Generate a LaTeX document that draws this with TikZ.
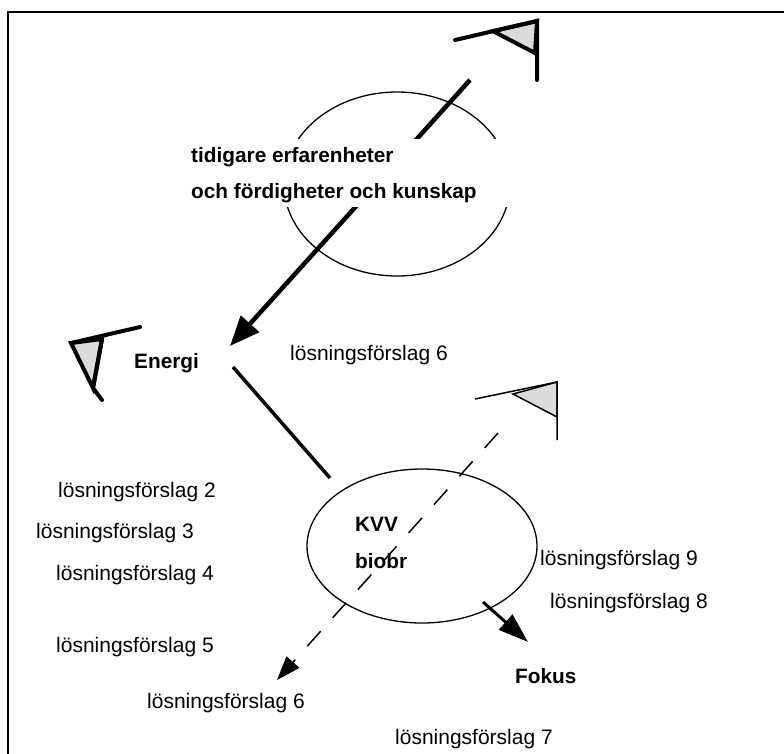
\documentclass[tikz,border=0pt]{standalone}
\usepackage{fontspec}
\setmainfont{Liberation Sans}
\usetikzlibrary{arrows.meta,shapes.geometric}
\begin{document}
\begin{tikzpicture}[x=1pt,y=-1pt,
  lbl/.style={anchor=west,inner sep=0pt,font=\fontsize{21}{25}\selectfont},
  blbl/.style={anchor=west,inner sep=0pt,font=\fontsize{20.8}{25}\selectfont\bfseries},
  oval/.style={draw,ellipse,line width=1.3pt,inner sep=0pt},
  flagfill/.style={fill=black!14},
  heavyflag/.style={line width=4pt,line join=miter,line cap=round},
  lightflag/.style={line width=1.5pt,line join=miter},
  frame/.style={line width=2pt}
]
\useasboundingbox (0,0) rectangle (784,753);
\clip (0,0) rectangle (784,753);

% page frame (left and top edges)
\draw[frame] (7.5,770) -- (7.5,11.5) -- (800,11.5);

% ovals
\node[oval,minimum width=226pt,minimum height=184pt] (exp) at (397,184) {};
\node[oval,minimum width=230pt,minimum height=154pt] (kvv) at (422,546) {};

% flag top right
\coordinate (f1a) at (455,40);
\coordinate (f1b) at (537,21);
\coordinate (f1c) at (493,31.2);
\coordinate (f1d) at (535,53);
\coordinate (f1e) at (537,80);
\filldraw[heavyflag,flagfill] (f1c) -- (f1b) -- (f1d) -- cycle;
\draw[heavyflag] (f1a) -- (f1b) -- (f1e);

% flag left
\coordinate (f2a) at (140,327);
\coordinate (f2b) at (71,343);
\coordinate (f2c) at (102,339);
\coordinate (f2d) at (93,388);
\coordinate (f2e) at (102,400);
\filldraw[heavyflag,flagfill] (f2b) -- (f2c) -- (f2d) -- cycle;
\draw[heavyflag] (f2a) -- (f2b);
\draw[heavyflag] (f2c) -- (f2d) -- (f2e);

% flag right (thin)
\coordinate (f3a) at (475,399);
\coordinate (f3b) at (557,382);
\coordinate (f3c) at (513,394);
\coordinate (f3d) at (557,417);
\coordinate (f3e) at (557,440);
\filldraw[lightflag,flagfill] (f3c) -- (f3b) -- (f3d) -- cycle;
\draw[lightflag] (f3a) -- (f3b) -- (f3e);

% connectors
\coordinate (aTop) at (470,80);
\coordinate (aEnergi) at (230,346);
\draw[line width=4.5pt,-{Triangle[length=30pt,width=24pt]}] (aTop) -- (aEnergi);

\coordinate (lEnergi) at (233,367);
\coordinate (lKvv) at (330,478);
\draw[line width=3.5pt] (lEnergi) -- (lKvv);

\coordinate (dStart) at (498,433);
\coordinate (dEnd) at (277,680);
\draw[line width=1.5pt,dash pattern=on 20pt off 18pt,-{Triangle[length=24pt,width=17pt]}] (dStart) -- (dEnd);

\coordinate (fStart) at (483,602);
\coordinate (fEnd) at (528,642);
\draw[line width=3pt,-{Triangle[length=30pt,width=20pt]}] (fStart) -- (fEnd);

% text block over the upper oval
\fill[white] (183,139) rectangle (515,207);
\node[blbl] (t1) at (191,157) {tidigare erfarenheter};
\node[blbl] (t2) at (191,193) {och fördigheter och kunskap};

% labels
\node[blbl] (energi) at (134,363) {Energi};
\node[blbl] (kvvt) at (355,524) {KVV};
\node[blbl] (biobr) at (355,561) {biobr};
\node[blbl] (fokus) at (515,676) {Fokus};

\node[lbl] (l6a) at (290,355) {lösningsförslag 6};
\node[lbl] (l2) at (58,492) {lösningsförslag 2};
\node[lbl] (l3) at (36,533) {lösningsförslag 3};
\node[lbl] (l4) at (56,575) {lösningsförslag 4};
\node[lbl] (l5) at (56,647) {lösningsförslag 5};
\node[lbl] (l6b) at (147,703) {lösningsförslag 6};
\node[lbl] (l7) at (395,739) {lösningsförslag 7};
\node[lbl] (l9) at (540,560) {lösningsförslag 9};
\node[lbl] (l8) at (550,603) {lösningsförslag 8};
\end{tikzpicture}
\end{document}
